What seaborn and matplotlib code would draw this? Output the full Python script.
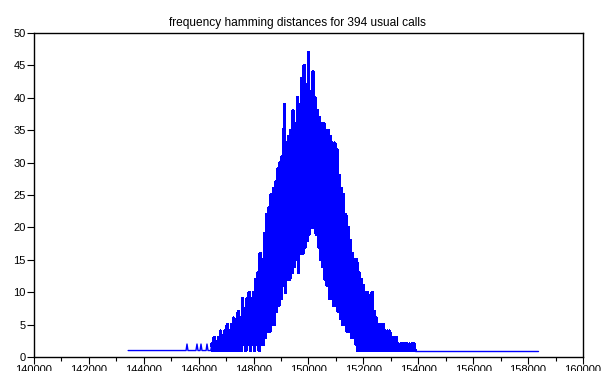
import numpy as np
import pandas as pd
import matplotlib
matplotlib.use("Agg")
import matplotlib.pyplot as plt
import seaborn as sns

# ---- data ----
title = "frequency hamming distances for 394 usual calls"

# sparse left tail (distance, count)
tail_left_x = [143430, 145540, 145574, 145610, 145900, 145938, 145975,
               146050, 146084, 146120, 146270, 146302, 146340, 146440]
tail_left_y = [1, 1, 2, 1, 1, 2, 1, 1, 2, 1, 1, 2, 1, 1]

# dense central part: alternating local maxima / minima of the noisy counts
dense_start = 146480
dense_step = 80
peak_counts = [2, 3, 2, 3, 4, 3, 4, 5, 4, 5, 6, 5, 7, 6, 9, 7, 9, 10, 9, 10,
               12, 13, 16, 15, 19, 22, 23, 25, 26, 27, 29, 30, 31, 39, 33, 34,
               35, 38, 36, 40, 39, 43, 45, 42, 47, 41, 44, 40, 38, 37, 36, 36,
               35, 35, 34, 33, 33, 32, 28, 26, 25, 22, 20, 18, 16, 15, 15, 13,
               12, 11, 10, 10, 9, 10, 7, 6, 5, 5, 5, 4, 4, 4, 3, 3, 3, 2, 2, 2,
               2, 2, 2, 2, 2]
trough_counts = [1, 1, 1, 1, 1, 1, 1, 1, 1, 1, 1, 1, 1, 1, 2, 1, 2, 1, 2, 1,
                 2, 1, 2, 2, 3, 4, 4, 5, 5, 7, 8, 9, 11, 10, 12, 12, 13, 14,
                 15, 13, 16, 16, 17, 18, 19, 20, 20, 19, 17, 15, 14, 12, 11, 9,
                 9, 8, 8, 7, 6, 5, 5, 4, 4, 3, 3, 2, 1, 1, 1, 1, 1, 1, 1, 1, 1,
                 1, 1, 1, 1, 1, 1, 1, 1, 1, 1, 1, 1, 1, 1, 1, 1, 1, 1]

# sparse right tail
tail_right_x = [153880, 158360]
tail_right_y = [1, 1]

x_ticks = [140000, 142000, 144000, 146000, 148000, 150000, 152000, 154000,
           156000, 158000, 160000]
y_ticks = [0, 5, 10, 15, 20, 25, 30, 35, 40, 45, 50]

# ---- build the series ----
peak_x = dense_start + dense_step * np.arange(len(peak_counts))
trough_x = peak_x + dense_step // 2
dense_x = np.empty(2 * len(peak_counts), dtype=int)
dense_y = np.empty(2 * len(peak_counts), dtype=int)
dense_x[0::2] = peak_x
dense_x[1::2] = trough_x
dense_y[0::2] = peak_counts
dense_y[1::2] = trough_counts

left_df = pd.DataFrame({"distance": tail_left_x + [dense_start],
                        "count": tail_left_y + [peak_counts[0]]})
dense_df = pd.DataFrame({"distance": dense_x, "count": dense_y})
right_df = pd.DataFrame({"distance": tail_right_x, "count": tail_right_y})

sns.set_theme(style="ticks")
plt.rcParams["font.family"] = ["Liberation Sans", "DejaVu Sans"]

fig = plt.figure(figsize=(6.06, 3.71), dpi=100)
ax = fig.add_axes([0.0561, 0.0377, 0.9059, 0.8733])

line_kw = dict(x="distance", y="count", ax=ax, color="#0000ff",
               estimator=None, sort=False)
sns.lineplot(data=left_df, linewidth=1.0, **line_kw)
sns.lineplot(data=dense_df, linewidth=1.7, antialiased=False, **line_kw)
sns.lineplot(data=right_df, linewidth=1.0, **line_kw)

ax.set_xlim(140000, 160000)
ax.set_ylim(0, 50)
ax.set_xticks(x_ticks)
ax.set_xticklabels([str(v) for v in x_ticks])
ax.set_xticks(np.arange(141000, 160000, 2000), minor=True)
ax.set_yticks(y_ticks)
ax.set_yticklabels([str(v) for v in y_ticks])
ax.set_xlabel("")
ax.set_ylabel("")
ax.set_title(title, fontsize=8.6, pad=5, color="black", x=0.48)

for s in ax.spines.values():
    s.set_visible(True)
    s.set_color("black")
    s.set_linewidth(1.0)

ax.tick_params(axis="both", which="major", direction="out", length=5,
               width=0.8, color="black", labelsize=8, labelcolor="black", pad=1)
ax.tick_params(axis="x", which="minor", direction="out", length=3,
               width=0.8, color="black")
ax.tick_params(top=False, right=False)
ax.set_facecolor("white")
fig.patch.set_facecolor("white")

fig.savefig("out.png", dpi=100)
